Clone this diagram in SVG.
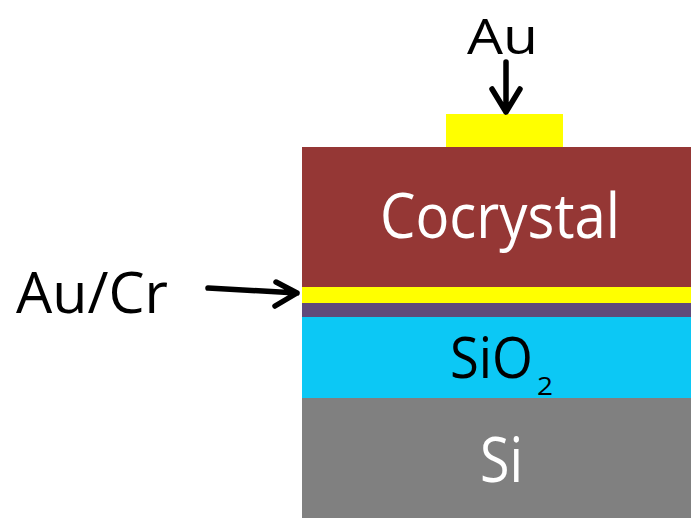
<svg xmlns="http://www.w3.org/2000/svg" width="691" height="518" viewBox="0 0 691 518">
<style>
.t{font-family:"Open Sans","Liberation Sans",sans-serif;}
.arr{stroke:#000;stroke-width:5.5;fill:none;stroke-linecap:round;stroke-linejoin:round;}
</style>
<rect width="691" height="518" fill="#fff"/>
<g id="si"><rect x="302" y="398" width="389" height="120" fill="#808080"/>
<text class="t" x="480" y="482" font-size="62" fill="#fff" textLength="43" lengthAdjust="spacingAndGlyphs">Si</text></g>
<g id="sio2"><rect x="302" y="317" width="389" height="81" fill="#0CC8F5"/>
<text class="t" x="450" y="378" font-size="56" fill="#000" textLength="83" lengthAdjust="spacingAndGlyphs">SiO</text>
<text class="t" x="537" y="395" font-size="26" fill="#000" textLength="16" lengthAdjust="spacingAndGlyphs">2</text></g>
<g id="cr"><rect x="302" y="303" width="389" height="14" fill="#604A7B"/></g>
<g id="aucr"><rect x="302" y="287" width="389" height="16" fill="#FFFF00"/></g>
<g id="cocrystal"><rect x="302" y="147" width="389" height="140" fill="#953735"/>
<text class="t" x="380" y="238" font-size="63" fill="#fff" textLength="240" lengthAdjust="spacingAndGlyphs">Cocrystal</text></g>
<g id="au-pad"><rect x="446" y="114" width="117" height="33" fill="#FFFF00"/></g>
<g id="label-au"><text class="t" x="467" y="54" font-size="50" fill="#000" textLength="71" lengthAdjust="spacingAndGlyphs">Au</text></g>
<g id="label-aucr"><text class="t" x="16" y="313" font-size="56" fill="#000" textLength="152" lengthAdjust="spacingAndGlyphs">Au/Cr</text></g>
<g id="connectors">
<path class="arr" d="M506 62 L506 112 M492 89 L506 112 L520 89"/>
<path class="arr" d="M208 288 L297 293 M276 282 L297 293 L275 306"/>
</g>
</svg>
